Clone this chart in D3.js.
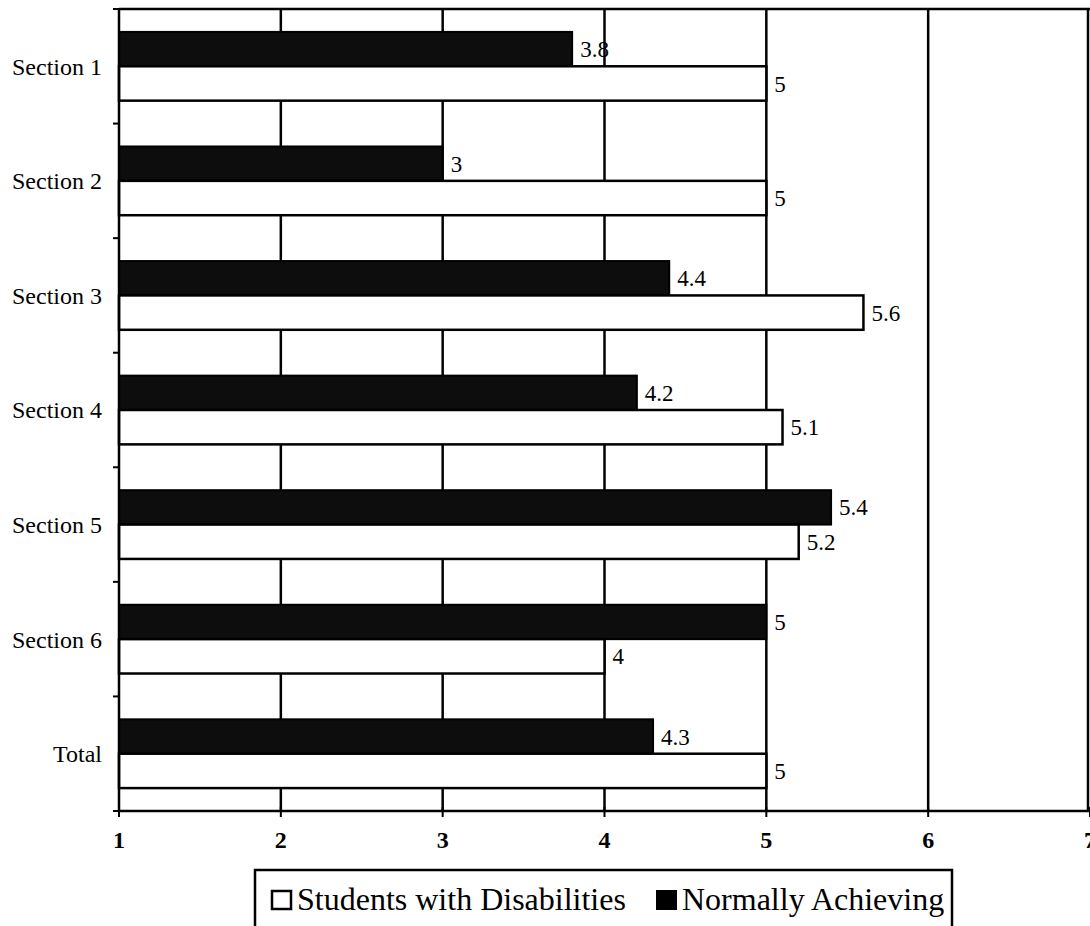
<!DOCTYPE html>
<html>
<head>
<meta charset="utf-8">
<script src="https://cdn.jsdelivr.net/npm/d3@7"></script>
<style>
  html, body { margin: 0; padding: 0; background: #fff; }
  svg { display: block; }
</style>
</head>
<body>
<svg id="chart" width="1090" height="926"></svg>
<script>
const categories = ["Section 1", "Section 2", "Section 3", "Section 4", "Section 5", "Section 6", "Total"];
const disabilities = [5, 5, 5.6, 5.1, 5.2, 4, 5];
const normal = [3.8, 3, 4.4, 4.2, 5.4, 5, 4.3];
const xTicks = [1, 2, 3, 4, 5, 6, 7];
const seriesNames = ["Students with Disabilities", "Normally Achieving"];

const svg = d3.select("#chart");
const plotLeft = 119, plotRight = 1090, plotTop = 9, plotBottom = 811;
const serif = "'Liberation Serif', 'Times New Roman', serif";

const x = d3.scaleLinear().domain([1, 7]).range([plotLeft, plotRight]);
const y = d3.scaleBand().domain(categories).range([plotTop, plotBottom]).paddingInner(0).paddingOuter(0);
const sub = d3.scaleBand().domain(["normal", "dis"]).range([0, y.bandwidth()]).paddingInner(0).paddingOuter(2 / 3);

// top line
svg.append("line").attr("x1", plotLeft).attr("x2", plotRight).attr("y1", plotTop).attr("y2", plotTop)
  .attr("stroke", "#000").attr("stroke-width", 2.5);

// vertical gridlines
svg.append("g").selectAll("line").data(xTicks.slice(1)).join("line")
  .attr("x1", d => Math.min(x(d), plotRight - 2)).attr("x2", d => Math.min(x(d), plotRight - 2))
  .attr("y1", plotTop).attr("y2", plotBottom)
  .attr("stroke", "#000").attr("stroke-width", 2.5);

// bars
const groups = svg.append("g").selectAll("g").data(categories).join("g")
  .attr("transform", d => `translate(0,${y(d)})`);

groups.append("rect")
  .attr("x", plotLeft)
  .attr("y", sub("normal"))
  .attr("width", (d, i) => x(normal[i]) - plotLeft)
  .attr("height", sub.bandwidth())
  .attr("fill", "#0d0d0d").attr("stroke", "#000").attr("stroke-width", 2);

groups.append("rect")
  .attr("x", plotLeft)
  .attr("y", sub("dis"))
  .attr("width", (d, i) => x(disabilities[i]) - plotLeft)
  .attr("height", sub.bandwidth())
  .attr("fill", "#fff").attr("stroke", "#000").attr("stroke-width", 2.5);

// value labels
groups.append("text")
  .attr("x", (d, i) => x(normal[i]) + 8)
  .attr("y", sub("normal") + sub.bandwidth() / 2)
  .attr("dy", "0.35em")
  .attr("font-family", serif).attr("font-size", 23)
  .text((d, i) => normal[i]);

groups.append("text")
  .attr("x", (d, i) => x(disabilities[i]) + 8)
  .attr("y", sub("dis") + sub.bandwidth() / 2)
  .attr("dy", "0.35em")
  .attr("font-family", serif).attr("font-size", 23)
  .text((d, i) => disabilities[i]);

// left axis
const boundaries = categories.map(c => y(c)).concat([plotBottom]);
svg.append("line").attr("x1", plotLeft).attr("x2", plotLeft).attr("y1", plotTop).attr("y2", plotBottom)
  .attr("stroke", "#000").attr("stroke-width", 2.5);
svg.append("g").selectAll("line").data(boundaries).join("line")
  .attr("x1", plotLeft - 6).attr("x2", plotLeft).attr("y1", d => d).attr("y2", d => d)
  .attr("stroke", "#000").attr("stroke-width", 2);
svg.append("g").selectAll("text").data(categories).join("text")
  .attr("x", 102).attr("y", d => y(d) + y.bandwidth() / 2)
  .attr("dy", "0.35em").attr("text-anchor", "end")
  .attr("font-family", serif).attr("font-size", 24)
  .text(d => d);

// bottom axis
svg.append("line").attr("x1", plotLeft).attr("x2", plotRight).attr("y1", plotBottom).attr("y2", plotBottom)
  .attr("stroke", "#000").attr("stroke-width", 2.5);
svg.append("g").selectAll("line").data(xTicks).join("line")
  .attr("x1", d => x(d)).attr("x2", d => x(d)).attr("y1", plotBottom - 4).attr("y2", plotBottom + 6)
  .attr("stroke", "#000").attr("stroke-width", 2);
svg.append("g").selectAll("text").data(xTicks).join("text")
  .attr("x", d => x(d)).attr("y", 848)
  .attr("text-anchor", "middle")
  .attr("font-family", serif).attr("font-size", 24).attr("font-weight", "bold")
  .text(d => d);

// legend
const lg = svg.append("g");
lg.append("rect").attr("x", 255).attr("y", 870).attr("width", 697).attr("height", 80)
  .attr("fill", "#fff").attr("stroke", "#000").attr("stroke-width", 2.5);
lg.append("rect").attr("x", 272).attr("y", 891).attr("width", 19).attr("height", 18)
  .attr("fill", "#fff").attr("stroke", "#000").attr("stroke-width", 2.5);
lg.append("text").attr("x", 297).attr("y", 910)
  .attr("font-family", serif).attr("font-size", 32).text(seriesNames[0]);
lg.append("rect").attr("x", 656).attr("y", 890).attr("width", 21).attr("height", 20)
  .attr("fill", "#000");
lg.append("text").attr("x", 682).attr("y", 910)
  .attr("font-family", serif).attr("font-size", 32).text(seriesNames[1]);
</script>
</body>
</html>
